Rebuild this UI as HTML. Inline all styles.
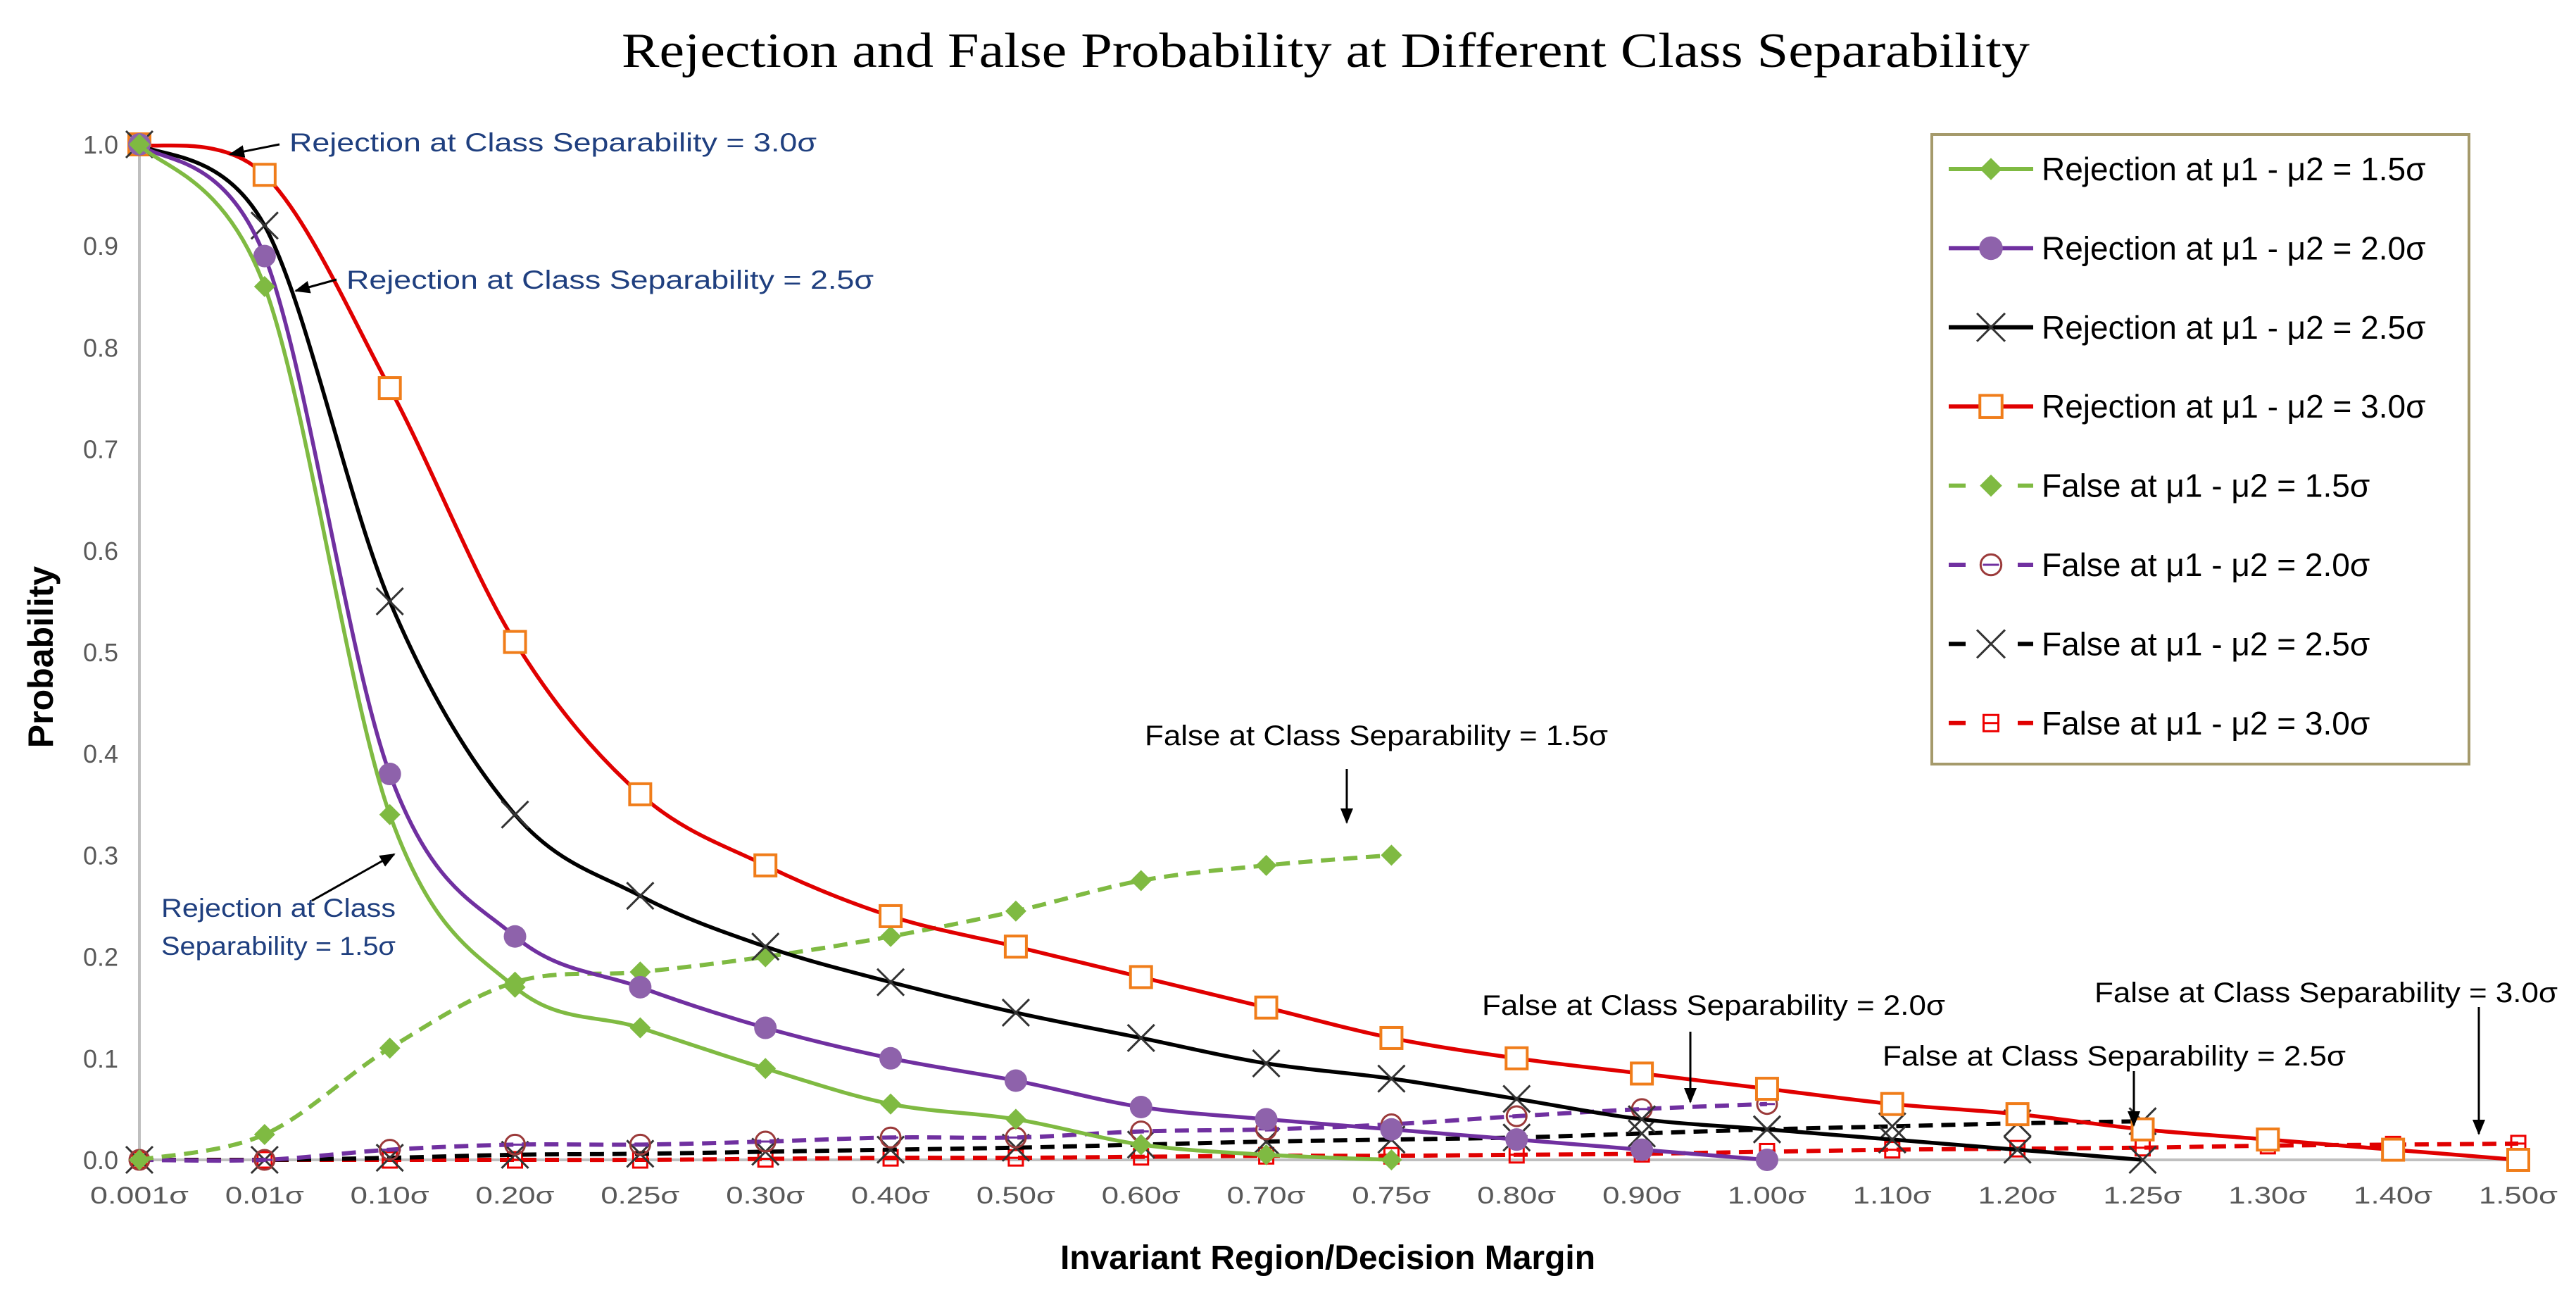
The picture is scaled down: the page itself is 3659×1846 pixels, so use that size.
<!DOCTYPE html>
<html><head><meta charset="utf-8"><style>
html,body{margin:0;padding:0;background:#fff;}
svg{display:block;}
</style></head><body>
<svg id="chart" width="3659" height="1846" viewBox="0 0 3659 1846" xmlns="http://www.w3.org/2000/svg">
<defs>
<marker id="ahb" markerWidth="22" markerHeight="18" refX="20" refY="9" orient="auto" markerUnits="userSpaceOnUse"><path d="M0,0 L22,9 L0,18 z" fill="#000"/></marker>
</defs>
<text x="1883" y="95" text-anchor="middle" font-family="Liberation Serif, serif" font-size="70" fill="#000" textLength="2000" lengthAdjust="spacingAndGlyphs">Rejection and False Probability at Different Class Separability</text>
<g id="plot"></g>
<text transform="translate(75,933) rotate(-90)" text-anchor="middle" font-family="Liberation Sans, sans-serif" font-weight="bold" font-size="50" fill="#000">Probability</text>
<text x="1886" y="1802" text-anchor="middle" font-family="Liberation Sans, sans-serif" font-weight="bold" font-size="48" fill="#000">Invariant Region/Decision Margin</text>
<g font-family="Liberation Sans, sans-serif">
<text x="411" y="215" font-size="37" fill="#1f3f7f" textLength="749" lengthAdjust="spacingAndGlyphs">Rejection at Class Separability = 3.0σ</text>
<line x1="397" y1="205" x2="327" y2="219" stroke="#000" stroke-width="3" marker-end="url(#ahb)"/>
<text x="492" y="410" font-size="37" fill="#1f3f7f" textLength="749" lengthAdjust="spacingAndGlyphs">Rejection at Class Separability = 2.5σ</text>
<line x1="478" y1="397" x2="420" y2="413" stroke="#000" stroke-width="3" marker-end="url(#ahb)"/>
<text x="229" y="1302" font-size="37" fill="#1f3f7f" textLength="333" lengthAdjust="spacingAndGlyphs">Rejection at Class</text>
<text x="229" y="1356" font-size="37" fill="#1f3f7f" textLength="333" lengthAdjust="spacingAndGlyphs">Separability = 1.5σ</text>
<line x1="443" y1="1279" x2="560" y2="1213" stroke="#000" stroke-width="3" marker-end="url(#ahb)"/>
<text x="1626" y="1058" font-size="40" fill="#000" textLength="658" lengthAdjust="spacingAndGlyphs">False at Class Separability = 1.5σ</text>
<line x1="1913" y1="1092" x2="1913" y2="1168" stroke="#000" stroke-width="3" marker-end="url(#ahb)"/>
<text x="2105" y="1441" font-size="40" fill="#000" textLength="658" lengthAdjust="spacingAndGlyphs">False at Class Separability = 2.0σ</text>
<line x1="2401" y1="1465" x2="2401" y2="1565" stroke="#000" stroke-width="3" marker-end="url(#ahb)"/>
<text x="2674" y="1513" font-size="40" fill="#000" textLength="658" lengthAdjust="spacingAndGlyphs">False at Class Separability = 2.5σ</text>
<line x1="3031" y1="1521" x2="3031" y2="1598" stroke="#000" stroke-width="3" marker-end="url(#ahb)"/>
<text x="2975" y="1423" font-size="40" fill="#000" textLength="658" lengthAdjust="spacingAndGlyphs">False at Class Separability = 3.0σ</text>
<line x1="3521" y1="1430" x2="3521" y2="1610" stroke="#000" stroke-width="3" marker-end="url(#ahb)"/>
</g>
<g id="legend"></g>
</svg>
<script>
const categories = ["0.001σ","0.01σ","0.10σ","0.20σ","0.25σ","0.30σ","0.40σ","0.50σ","0.60σ","0.70σ","0.75σ","0.80σ","0.90σ","1.00σ","1.10σ","1.20σ","1.25σ","1.30σ","1.40σ","1.50σ"];
const yTicks = [0,0.1,0.2,0.3,0.4,0.5,0.6,0.7,0.8,0.9,1.0];
const rej15 = [1.0,0.86,0.34,0.17,0.13,0.09,0.055,0.04,0.015,0.005,0.0];
const rej20 = [1.0,0.89,0.38,0.22,0.17,0.13,0.10,0.078,0.052,0.04,0.03,0.02,0.01,0.0];
const rej25 = [1.0,0.92,0.55,0.34,0.26,0.21,0.175,0.145,0.12,0.095,0.08,0.06,0.04,0.03,0.02,0.01,0.0];
const rej30 = [1.0,0.97,0.76,0.51,0.36,0.29,0.24,0.21,0.18,0.15,0.12,0.10,0.085,0.07,0.055,0.045,0.03,0.02,0.01,0.0];
const fal15 = [0,0.025,0.11,0.175,0.185,0.20,0.22,0.245,0.275,0.29,0.30];
const fal20 = [0,0,0.01,0.015,0.015,0.018,0.022,0.022,0.028,0.03,0.035,0.043,0.05,0.055];
const fal25 = [0,0,0.002,0.005,0.006,0.008,0.01,0.012,0.015,0.018,0.02,0.022,0.026,0.03,0.033,0.036,0.038];
const fal30 = [0,0,0,0,0,0.001,0.002,0.002,0.003,0.004,0.004,0.005,0.006,0.008,0.01,0.011,0.012,0.014,0.015,0.016];
const seriesLabels = ["Rejection at μ1 - μ2 = 1.5σ","Rejection at μ1 - μ2 = 2.0σ","Rejection at μ1 - μ2 = 2.5σ","Rejection at μ1 - μ2 = 3.0σ","False at μ1 - μ2 = 1.5σ","False at μ1 - μ2 = 2.0σ","False at μ1 - μ2 = 2.5σ","False at μ1 - μ2 = 3.0σ"];

const NS="http://www.w3.org/2000/svg";
const X0=198, X1=3577, Y0=1647, Y1=205;
function xPos(i){return X0+(X1-X0)*i/(categories.length-1);}
function yPos(v){return Y0-(Y0-Y1)*v;}
function mk(tag,attrs,parent){const e=document.createElementNS(NS,tag);for(const k in attrs)e.setAttribute(k,attrs[k]);parent.appendChild(e);return e;}
const plot=document.getElementById('plot');

let ax=mk('line',{x1:X0,y1:Y1,x2:X0,y2:Y0,stroke:'#bfbfbf','stroke-width':4},plot);


let bx=mk('line',{x1:X0,y1:Y0,x2:X1+10,y2:Y0,stroke:'#bfbfbf','stroke-width':4},plot);


yTicks.forEach(t=>{
  const e=mk('text',{x:X0-30,y:yPos(t)+13,'text-anchor':'end','font-family':'Liberation Sans, sans-serif','font-size':36,fill:'#595959'},plot);
  e.textContent=t.toFixed(1);
  
  
});
categories.forEach((c,i)=>{
  const e=mk('text',{x:xPos(i),y:Y0+62,'text-anchor':'middle','font-family':'Liberation Sans, sans-serif','font-size':34,fill:'#595959',textLength:c.length>5?140:112,lengthAdjust:'spacingAndGlyphs'},plot);
  e.textContent=c;
  
  
});

function smoothPath(pts){
  let d='M'+pts[0][0]+','+pts[0][1];
  for(let i=0;i<pts.length-1;i++){
    const p0=pts[i-1]||pts[i],p1=pts[i],p2=pts[i+1],p3=pts[i+2]||p2;
    const t=0.5/3;
    const c1=[p1[0]+(p2[0]-p0[0])*t,p1[1]+(p2[1]-p0[1])*t];
    const c2=[p2[0]-(p3[0]-p1[0])*t,p2[1]-(p3[1]-p1[1])*t];
    d+=' C'+c1[0]+','+c1[1]+' '+c2[0]+','+c2[1]+' '+p2[0]+','+p2[1];
  }
  return d;
}
function marker(type,x,y,g,scale){
  const s=scale||1;
  let e;
  if(type==='diamond'){e=mk('path',{d:`M${x},${y-15*s} L${x+15*s},${y} L${x},${y+15*s} L${x-15*s},${y} Z`,fill:'#7fba42'},g);}
  else if(type==='circle'){e=mk('circle',{cx:x,cy:y,r:16*s,fill:'#8e62ab'},g);}
  else if(type==='x'){e=mk('path',{d:`M${x-19*s},${y-19*s} L${x+19*s},${y+19*s} M${x-19*s},${y+19*s} L${x+19*s},${y-19*s}`,stroke:'#333',fill:'none','stroke-width':3},g);}
  else if(type==='square'){e=mk('rect',{x:x-15*s,y:y-15*s,width:30*s,height:30*s,fill:'#fff',stroke:'#f07d1a','stroke-width':4},g);}
  else if(type==='ocircle'){e=mk('circle',{cx:x,cy:y,r:14*s,fill:'none',stroke:'#9b3a3a','stroke-width':3},g);mk('line',{x1:x-11*s,y1:y,x2:x+11*s,y2:y,stroke:'#7030a0','stroke-width':3},g);}
  else if(type==='rsquare'){e=mk('rect',{x:x-10*s,y:y-11*s,width:20*s,height:22*s,fill:'none',stroke:'#e00','stroke-width':3},g);mk('line',{x1:x-10*s,y1:y,x2:x+10*s,y2:y,stroke:'#e00','stroke-width':3},g);}
  
  
}
const series=[
 {name:'series-false-3-0',data:fal30,color:'#e00000',dash:'20,12',m:'rsquare'},
 {name:'series-false-2-5',data:fal25,color:'#000',dash:'20,12',m:'x'},
 {name:'series-false-2-0',data:fal20,color:'#7030a0',dash:'20,12',m:'ocircle'},
 {name:'series-false-1-5',data:fal15,color:'#7fba42',dash:'20,12',m:'diamond'},
 {name:'series-rejection-3-0',data:rej30,color:'#e00000',dash:null,m:'square'},
 {name:'series-rejection-2-5',data:rej25,color:'#000',dash:null,m:'x'},
 {name:'series-rejection-2-0',data:rej20,color:'#7030a0',dash:null,m:'circle'},
 {name:'series-rejection-1-5',data:rej15,color:'#7fba42',dash:null,m:'diamond'}
];
series.forEach(s=>{
  const g=mk('g',{},plot);
  
  
  const pts=s.data.map((v,i)=>[xPos(i),yPos(v)]);
  const p=mk('path',{d:smoothPath(pts),fill:'none',stroke:s.color,'stroke-width':s.dash?6:5.5},g);
  if(s.dash)p.setAttribute('stroke-dasharray',s.dash);
  
  
  pts.forEach(q=>marker(s.m,q[0],q[1],g));
});

const lg=document.getElementById('legend');
const box=mk('rect',{x:2744,y:191,width:763,height:894,fill:'#fff',stroke:'#a59a6b','stroke-width':4},lg);


const legSpec=[['#7fba42',null,'diamond'],['#7030a0',null,'circle'],['#000',null,'x'],['#e00000',null,'square'],['#7fba42','d','diamond'],['#7030a0','d','ocircle'],['#000','d','x'],['#e00000','d','rsquare']];
legSpec.forEach((L,i)=>{
  const y=240+i*112.4;
  const g=mk('g',{},lg);
  
  
  if(L[1]){mk('line',{x1:2768,y1:y,x2:2792,y2:y,stroke:L[0],'stroke-width':6},g);mk('line',{x1:2866,y1:y,x2:2888,y2:y,stroke:L[0],'stroke-width':6},g);}
  else mk('line',{x1:2768,y1:y,x2:2888,y2:y,stroke:L[0],'stroke-width':6},g);
  marker(L[2],2828,y,g,1.05);
  const t=mk('text',{x:2900,y:y+16,'font-family':'Liberation Sans, sans-serif','font-size':46,fill:'#000'},g);
  t.textContent=seriesLabels[i];
  
  
});
</script>
</body></html>
